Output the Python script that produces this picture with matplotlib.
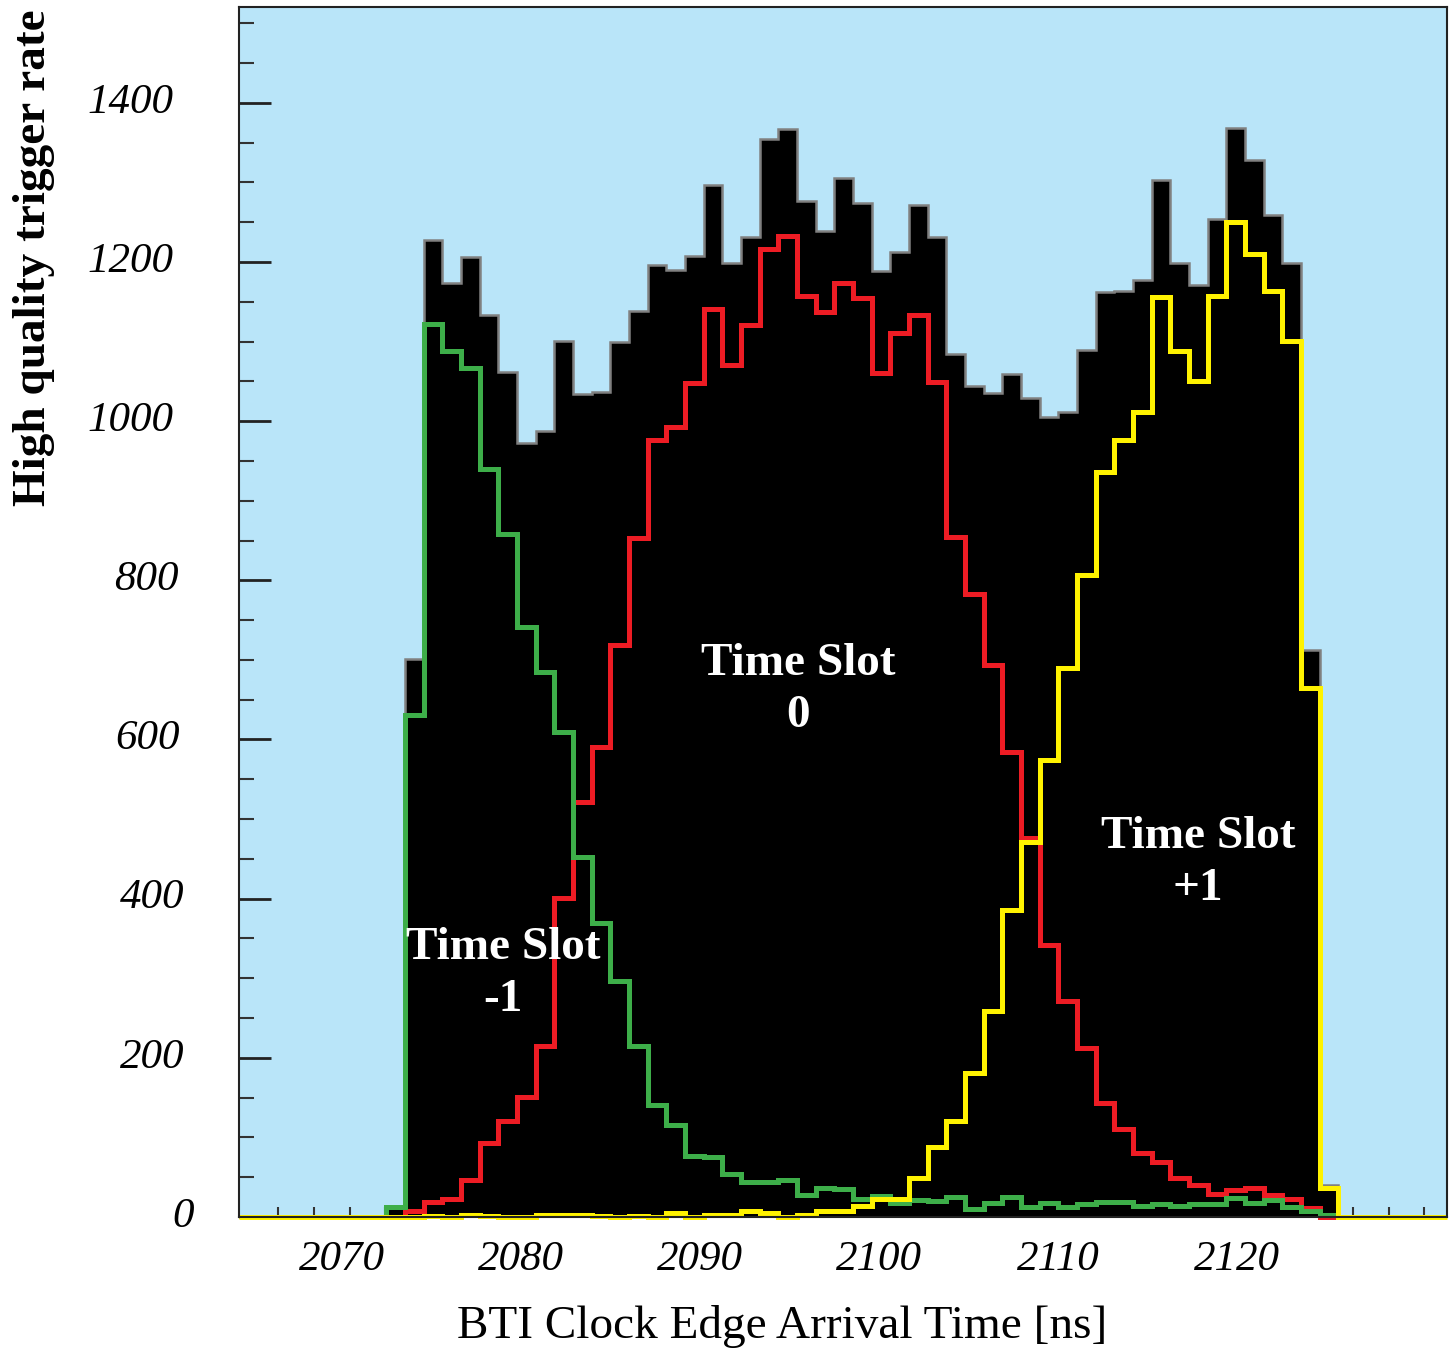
import numpy as np
import matplotlib
matplotlib.use("Agg")
import matplotlib.pyplot as plt
import matplotlib.transforms as mtransforms

plt.rcParams['font.family'] = ['Liberation Serif', 'DejaVu Serif']

# histogram binning (ns)
bin_start = 2072.5
bin_width = 25.0 / 24.0
x_lo, x_hi = 2064.27, 2131.7

# bin contents (51 bins)
total = [13, 701, 1228, 1173, 1206, 1133, 1062, 972, 987, 1101, 1034, 1036, 1100,
         1138, 1196, 1190, 1208, 1297, 1199, 1232, 1354, 1367, 1276, 1239, 1305,
         1274, 1189, 1212, 1272, 1232, 1084, 1044, 1035, 1059, 1029, 1005, 1011,
         1090, 1162, 1163, 1177, 1303, 1199, 1171, 1254, 1368, 1328, 1259, 1199,
         712, 40]
slot_m1 = [13, 631, 1122, 1088, 1067, 940, 858, 741, 685, 609, 452, 369, 297,
           215, 141, 115, 77, 76, 54, 44, 44, 47, 28, 37, 35, 23, 26, 17, 21, 20,
           25, 10, 18, 25, 12, 18, 12, 16, 19, 19, 14, 16, 14, 16, 16, 24, 18, 21,
           12, 7, 2]
slot_0 = [0, 7, 19, 23, 47, 93, 120, 151, 215, 401, 522, 590, 719, 853, 976,
          993, 1048, 1141, 1070, 1121, 1216, 1233, 1157, 1137, 1173, 1155, 1061,
          1111, 1133, 1049, 855, 783, 693, 584, 476, 342, 271, 212, 143, 111, 80,
          69, 49, 40, 29, 34, 37, 28, 22, 11, 0]
slot_p1 = [0, 0, 1, 0, 2, 1, 0, 0, 2, 3, 2, 1, 0, 1, 0, 5, 0, 2, 3, 7, 5, 0, 3,
           8, 8, 14, 23, 23, 49, 88, 121, 181, 259, 386, 471, 574, 690, 807, 936,
           976, 1012, 1156, 1088, 1050, 1157, 1250, 1210, 1163, 1101, 665, 36]

label_ticks = [2070, 2080, 2090, 2100, 2110, 2120]
y_major = [0, 200, 400, 600, 800, 1000, 1200, 1400]

edges = bin_start + bin_width * np.arange(len(total) + 1)
# yellow histogram runs over the whole axis range
edges_full = np.concatenate([[x_lo], edges, [x_hi]])
p1_full = np.concatenate([[0], slot_p1, [0]])

fig = plt.figure(figsize=(14.51, 13.49), dpi=100)
ax = fig.add_axes([239 / 1451, 132 / 1349, 1208 / 1451, 1209.7 / 1349])
ax.set_facecolor('#b9e5f9')

ax.stairs(total, edges, fill=True, color='black', zorder=1)
ax.stairs(total, edges, color='#808080', lw=1.8, zorder=1.5)
ax.stairs(slot_0, edges, color='#ed1c24', lw=3.6, zorder=2, clip_on=False)
ax.stairs(slot_m1, edges, color='#3dae49', lw=3.6, zorder=2.2, clip_on=False)
ax.stairs(p1_full, edges_full, color='#fff200', lw=3.6, zorder=2.4, clip_on=False)

ax.set_xlim(x_lo, x_hi)
ax.set_ylim(0, 1520)
ax.set_axisbelow(True)

# x axis: labels and tick marks are not aligned in the original
ax.set_xticks(label_ticks, labels=[str(v) for v in label_ticks])
ax.set_xticks(np.arange(2066.44, x_hi, 2.0), minor=True)
ax.tick_params(axis='x', which='major', length=0, pad=17, labelsize=31)
ax.tick_params(axis='x', which='minor', direction='in', length=7, width=1.5,
               color='#333333')
for t in ax.get_xticklabels():
    t.set_fontstyle('italic')

ax.set_yticks(y_major, labels=[str(v) for v in y_major])
ax.set_yticks(np.arange(0, 1520, 50), minor=True)
ax.tick_params(axis='y', which='major', direction='in', length=23, width=2,
               color='#222222', pad=47, labelsize=31)
ax.tick_params(axis='y', which='minor', direction='in', length=11, width=1.5,
               color='#333333')
# labels in the original are not quite right-aligned
shift_px = [20, 11, 11, 6, 5, 0, 0, 0]
for t, dx in zip(ax.get_yticklabels(), shift_px):
    t.set_fontstyle('italic')
    off = mtransforms.ScaledTranslation(dx / 100, 5 / 100, fig.dpi_scale_trans)
    t.set_transform(t.get_transform() + off)

for s in ax.spines.values():
    s.set_color('#222222')
    s.set_linewidth(1.5)

fig.text(782 / 1451, 11 / 1349, 'BTI Clock Edge Arrival Time [ns]',
         fontsize=34, ha='center', va='baseline')
fig.text(13 / 1451, (1349 - 506) / 1349, 'High quality trigger rate',
         fontsize=34, fontweight='bold', rotation=90, ha='left', va='bottom')

kw = dict(color='white', fontsize=34, fontweight='bold', ha='center',
          va='center', linespacing=1.3, zorder=5)
ax.text(2095.48, 662, 'Time Slot\n0', **kw)
ax.text(2079.0, 305, 'Time Slot\n-1', **kw)
ax.text(2117.8, 445, 'Time Slot\n+1', **kw)

fig.savefig('out.png', dpi=100)
